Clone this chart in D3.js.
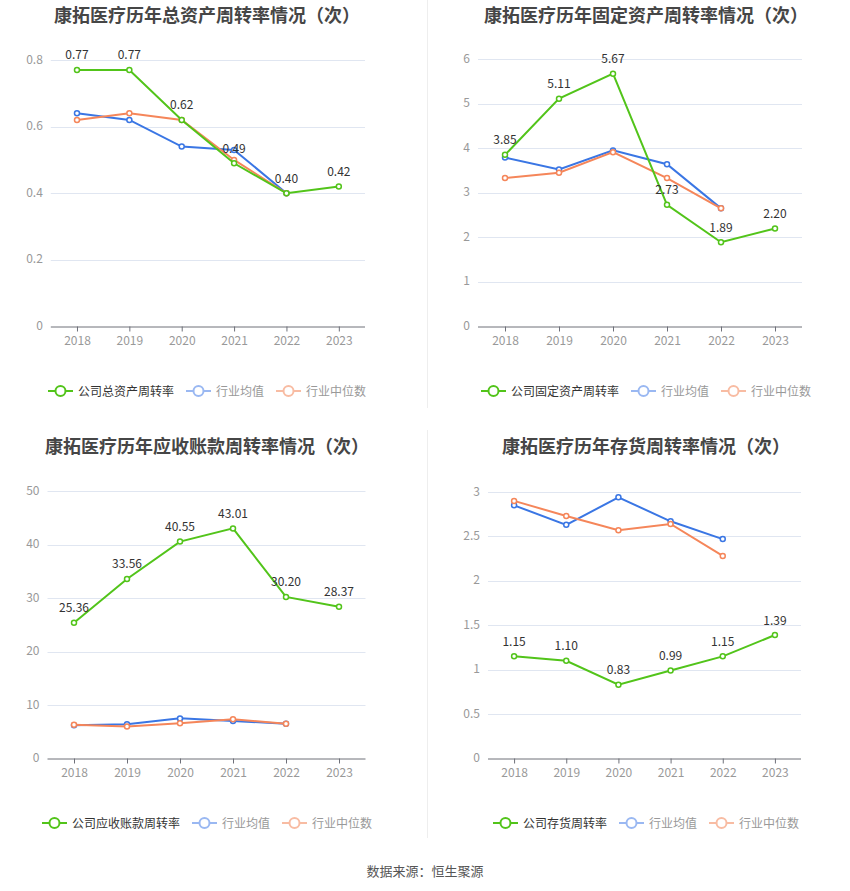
<!DOCTYPE html>
<html><head><meta charset="utf-8">
<script src="https://cdn.jsdelivr.net/npm/d3@7/dist/d3.min.js"></script>
<style>
body{margin:0;background:#fff;}
svg{display:block;font-family:"Noto Sans CJK SC","Noto Sans",sans-serif;}
</style></head>
<body>
<svg id="c" width="850" height="891"></svg>
<script>
const years = ["2018","2019","2020","2021","2022","2023"];
const seriesNames = ["行业均值","行业中位数"];

const titles = ["康拓医疗历年总资产周转率情况（次）","康拓医疗历年固定资产周转率情况（次）","康拓医疗历年应收账款周转率情况（次）","康拓医疗历年存货周转率情况（次）"];
const companyNames = ["公司总资产周转率","公司固定资产周转率","公司应收账款周转率","公司存货周转率"];

const totalAssetCompany = [0.77,0.77,0.62,0.49,0.40,0.42];
const totalAssetAvg = [0.64,0.62,0.54,0.53,0.40];
const totalAssetMedian = [0.62,0.64,0.62,0.50,0.40];
const totalAssetTicks = [0,0.2,0.4,0.6,0.8];

const fixedAssetCompany = [3.85,5.11,5.67,2.73,1.89,2.20];
const fixedAssetAvg = [3.79,3.52,3.95,3.64,2.65];
const fixedAssetMedian = [3.33,3.45,3.91,3.33,2.65];
const fixedAssetTicks = [0,1,2,3,4,5,6];

const receivableCompany = [25.36,33.56,40.55,43.01,30.20,28.37];
const receivableAvg = [6.2,6.4,7.5,7.0,6.5];
const receivableMedian = [6.3,6.0,6.6,7.35,6.5];
const receivableTicks = [0,10,20,30,40,50];

const inventoryCompany = [1.15,1.10,0.83,0.99,1.15,1.39];
const inventoryAvg = [2.85,2.63,2.94,2.67,2.47];
const inventoryMedian = [2.90,2.73,2.57,2.64,2.28];
const inventoryTicks = [0,0.5,1,1.5,2,2.5,3];

const colors = {company:"#52c41a", avg:"#3a76e4", median:"#f5865a"};
const legendColors = {company:"#52c41a", avg:"#9ab8f2", median:"#f8bca3"};

const svg = d3.select("#c");

// dividers
svg.append("line").attr("x1",427.5).attr("x2",427.5).attr("y1",0).attr("y2",408).attr("stroke","#eeeeee");
svg.append("line").attr("x1",427.5).attr("x2",427.5).attr("y1",430).attr("y2",838).attr("stroke","#eeeeee");

const panels = [
  {title:titles[0], cname:companyNames[0], comp:totalAssetCompany, avg:totalAssetAvg, med:totalAssetMedian, ticks:totalAssetTicks, fmt:d=>d===0?"0":d3.format(".1f")(d),
   x0:50.8, x1:365, y0:326.5, y1:60, cx:207, ty:14, ly:391},
  {title:titles[1], cname:companyNames[1], comp:fixedAssetCompany, avg:fixedAssetAvg, med:fixedAssetMedian, ticks:fixedAssetTicks, fmt:d=>String(d),
   x0:478, x1:802, y0:326.5, y1:59, cx:646, ty:14, ly:391},
  {title:titles[2], cname:companyNames[2], comp:receivableCompany, avg:receivableAvg, med:receivableMedian, ticks:receivableTicks, fmt:d=>String(d),
   x0:47.5, x1:365.5, y0:758.5, y1:491, cx:207, ty:445, ly:823},
  {title:titles[3], cname:companyNames[3], comp:inventoryCompany, avg:inventoryAvg, med:inventoryMedian, ticks:inventoryTicks, fmt:d=>String(d),
   x0:488, x1:801, y0:758.5, y1:492, cx:646, ty:445, ly:823}
];

panels.forEach(p=>{
  const g = svg.append("g");
  const x = d3.scalePoint().domain(years).range([p.x0,p.x1]).padding(0.5);
  const ymax = p.ticks[p.ticks.length-1];
  const y = d3.scaleLinear().domain([0,ymax]).range([p.y0,p.y1]);

  g.append("text").attr("x",p.cx).attr("y",p.ty).attr("text-anchor","middle").attr("dominant-baseline","central")
    .attr("font-size",18).attr("font-weight","bold").attr("fill","#464646").text(p.title);

  // grid
  g.selectAll(".grid").data(p.ticks.filter(t=>t>0)).enter().append("line")
    .attr("x1",p.x0).attr("x2",p.x1).attr("y1",d=>Math.round(y(d))+0.5).attr("y2",d=>Math.round(y(d))+0.5)
    .attr("stroke","#e0e6f1");
  // y labels
  g.selectAll(".yl").data(p.ticks).enter().append("text")
    .attr("x",p.x0-8).attr("y",d=>y(d)-2).attr("text-anchor","end").attr("dominant-baseline","central")
    .attr("font-size",12).attr("fill","#999").text(p.fmt);

  // x axis
  const ax = g.append("g").attr("transform",`translate(0,${p.y0})`)
    .call(d3.axisBottom(x).tickSize(5).tickSizeOuter(0));
  ax.select(".domain").attr("stroke","#6e7079").attr("d",`M${p.x0},0.5H${p.x1}`);
  ax.selectAll(".tick line").attr("stroke","#6e7079");
  ax.selectAll(".tick text").attr("fill","#999").attr("font-size",12).attr("dy","0.9em")
    .attr("font-family",'"Noto Sans CJK SC","Noto Sans",sans-serif');

  const line = d3.line().x((d,i)=>x(years[i])).y(d=>y(d));
  const series = [
    {data:p.avg, c:colors.avg},
    {data:p.med, c:colors.median},
    {data:p.comp, c:colors.company}
  ];
  series.forEach(s=>{
    g.append("path").attr("d",line(s.data)).attr("fill","none").attr("stroke",s.c).attr("stroke-width",2);
    g.selectAll(null).data(s.data).enter().append("circle")
      .attr("cx",(d,i)=>x(years[i])).attr("cy",d=>y(d)).attr("r",2.5)
      .attr("fill","#fff").attr("stroke",s.c).attr("stroke-width",1.5);
  });
  // labels
  g.selectAll(null).data(p.comp).enter().append("text")
    .attr("x",(d,i)=>x(years[i])).attr("y",d=>y(d)-16).attr("text-anchor","middle").attr("dominant-baseline","central")
    .attr("font-size",12).attr("fill","#333").text(d=>d.toFixed(2));

  // legend
  const items = [
    {name:p.cname, c:legendColors.company, tc:"#333"},
    {name:seriesNames[0], c:legendColors.avg, tc:"#999"},
    {name:seriesNames[1], c:legendColors.median, tc:"#999"}
  ];
  const lg = g.append("g");
  let cur = 0;
  items.forEach((it,k)=>{
    const ig = lg.append("g").attr("transform",`translate(${cur},0)`);
    ig.append("line").attr("x1",0).attr("x2",25).attr("y1",p.ly).attr("y2",p.ly).attr("stroke",it.c).attr("stroke-width",2);
    ig.append("circle").attr("cx",12.5).attr("cy",p.ly).attr("r",5).attr("fill","#fff").attr("stroke",it.c).attr("stroke-width",2);
    const t = ig.append("text").attr("x",30).attr("y",p.ly-1).attr("dominant-baseline","central")
      .attr("font-size",12).attr("fill",it.tc).text(it.name);
    const w = t.node().getComputedTextLength();
    cur += 30 + w + 12;
  });
  const total = cur - 12;
  lg.attr("transform",`translate(${p.cx - total/2},0)`);
});

svg.append("text").attr("x",425).attr("y",870).attr("text-anchor","middle").attr("dominant-baseline","central")
  .attr("font-size",13).attr("fill","#555").text("数据来源：恒生聚源");
</script>
</body></html>
